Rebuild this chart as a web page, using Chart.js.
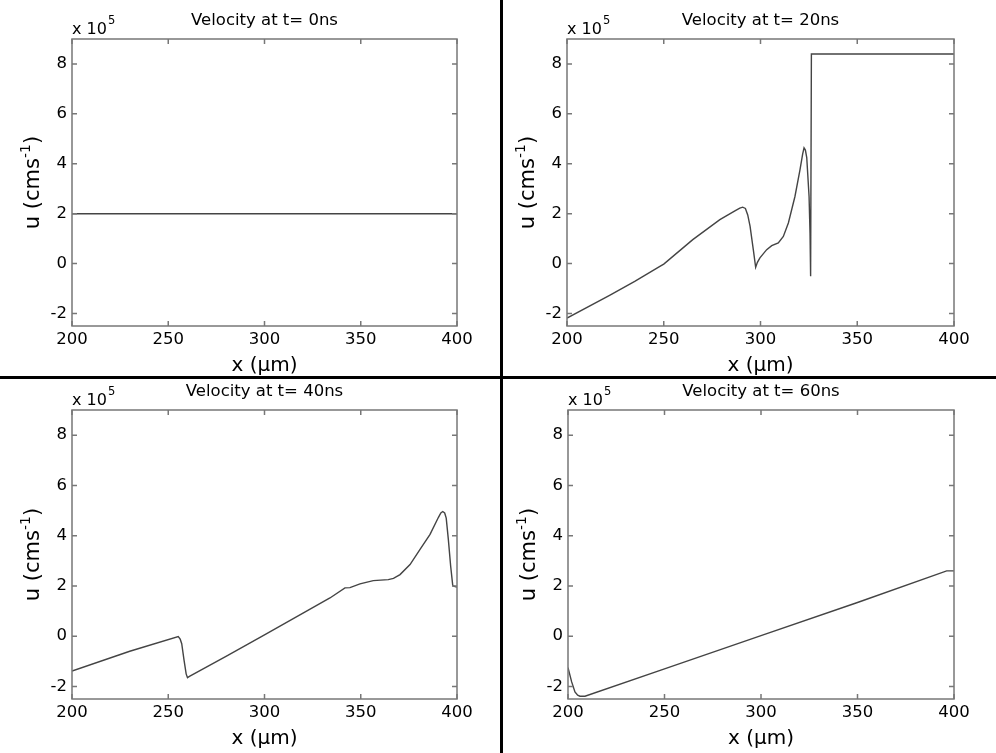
<!DOCTYPE html>
<html>
<head>
<meta charset="utf-8">
<script src="https://cdn.jsdelivr.net/npm/chart.js@4.4.1/dist/chart.umd.min.js"></script>
<style>
  body { margin: 0; background: #fff; }
  #wrap { position: relative; width: 996px; height: 753px; background: #fff; overflow: hidden; }
  .panel { position: absolute; }
  .panel canvas { display: block; }
  .sep { position: absolute; background: #000; }
</style>
</head>
<body>
<div id="wrap">
  <div class="panel" style="left:0;top:0"><canvas id="c0" width="499" height="375"></canvas></div>
  <div class="panel" style="left:502px;top:0"><canvas id="c1" width="494" height="375"></canvas></div>
  <div class="panel" style="left:0;top:378px"><canvas id="c2" width="499" height="375"></canvas></div>
  <div class="panel" style="left:502px;top:378px"><canvas id="c3" width="494" height="375"></canvas></div>
  <div class="sep" style="left:500px;top:0;width:3px;height:753px"></div>
  <div class="sep" style="left:0;top:376px;width:996px;height:3px"></div>
</div>
<script>
// tick labels
const xTicks = [200, 250, 300, 350, 400];
const yTicks = [-2, 0, 2, 4, 6, 8];

const titles = ['Velocity at t= 0ns', 'Velocity at t= 20ns', 'Velocity at t= 40ns', 'Velocity at t= 60ns'];

// velocity profiles, u in units of 1e5 cm/s, x in um
const x0ns = [200, 400];
const u0ns = [2, 2];

const x20ns = [200, 222, 235, 248, 250, 265, 279, 287, 289.3, 290.8, 292.2, 293.4, 294.6, 296.3, 297.5, 298.4, 299.7, 303.2, 305.8, 309.2, 311.8, 314.4, 317.8, 320.4, 321.8, 322.5, 323.2, 323.9, 325.1, 325.6, 325.9, 326.3, 400];
const u20ns = [-2.18, -1.27, -0.71, -0.11, -0.02, 0.96, 1.76, 2.12, 2.22, 2.26, 2.21, 1.95, 1.5, 0.55, -0.15, 0.05, 0.23, 0.56, 0.72, 0.83, 1.09, 1.63, 2.69, 3.76, 4.4, 4.64, 4.55, 4.25, 2.69, 1.2, -0.51, 8.4, 8.4];

const x40ns = [200, 230, 255.2, 256.2, 257, 258.2, 259.3, 260, 261, 280, 300, 320, 334, 341.8, 344.4, 349.6, 356.5, 364.3, 367, 370.4, 375.6, 380.8, 386, 390.3, 391.6, 392.6, 393.6, 394.4, 395.5, 396.7, 397.8, 399, 400];
const u40ns = [-1.39, -0.6, -0.02, -0.12, -0.3, -0.95, -1.5, -1.65, -1.6, -0.8, 0.05, 0.92, 1.52, 1.92, 1.93, 2.08, 2.21, 2.25, 2.3, 2.45, 2.85, 3.45, 4.05, 4.72, 4.9, 4.96, 4.9, 4.7, 3.85, 2.79, 2.01, 1.97, 1.95];

const x60ns = [200, 201.9, 203.6, 205, 206.2, 208.8, 250, 300, 350, 396.2, 400];
const u60ns = [-1.25, -1.82, -2.22, -2.35, -2.39, -2.39, -1.3, 0.02, 1.34, 2.6, 2.6];

const FONT = '"DejaVu Sans", "Liberation Sans", sans-serif';

// plot area inside each canvas: left, top, right, bottom
const panels = [
  { id: 'c0', xs: x0ns, us: u0ns, area: [72, 39, 457, 326] },
  { id: 'c1', xs: x20ns, us: u20ns, area: [65, 39, 452, 326] },
  { id: 'c2', xs: x40ns, us: u40ns, area: [72, 32, 457, 321] },
  { id: 'c3', xs: x60ns, us: u60ns, area: [66, 32, 452, 321] }
];

const decor = {
  id: 'decor',
  afterDraw(chart, args, opts) {
    const ctx = chart.ctx;
    const a = chart.chartArea;
    const sx = chart.scales.x, sy = chart.scales.y;
    ctx.save();
    // box + inward ticks
    ctx.strokeStyle = '#777';
    ctx.lineWidth = 1.5;
    ctx.strokeRect(a.left, a.top, a.right - a.left, a.bottom - a.top);
    ctx.beginPath();
    xTicks.forEach(v => {
      const px = sx.getPixelForValue(v);
      ctx.moveTo(px, a.bottom); ctx.lineTo(px, a.bottom - 5);
      ctx.moveTo(px, a.top); ctx.lineTo(px, a.top + 5);
    });
    yTicks.forEach(v => {
      const py = sy.getPixelForValue(v);
      ctx.moveTo(a.left, py); ctx.lineTo(a.left + 5, py);
      ctx.moveTo(a.right, py); ctx.lineTo(a.right - 5, py);
    });
    ctx.stroke();

    ctx.fillStyle = '#000';
    ctx.textBaseline = 'alphabetic';
    const cx = (a.left + a.right) / 2;

    // title
    ctx.font = '16.5px ' + FONT;
    ctx.textAlign = 'center';
    ctx.fillText(opts.title, cx, a.top - 14.5);

    // x 10^5
    ctx.textAlign = 'left';
    ctx.font = '16px ' + FONT;
    ctx.fillText('x 10', a.left, a.top - 5.5);
    const w10 = ctx.measureText('x 10').width;
    ctx.font = '11.5px ' + FONT;
    ctx.fillText('5', a.left + w10 + 1, a.top - 15.5);

    // x axis title
    ctx.font = '20px ' + FONT;
    ctx.textAlign = 'center';
    ctx.fillText('x (\u03bcm)', cx, a.bottom + 45);

    // y axis title, rotated
    ctx.translate(a.left - 33, (a.top + a.bottom) / 2);
    ctx.rotate(-Math.PI / 2);
    ctx.textAlign = 'left';
    ctx.font = '21px ' + FONT;
    const p1 = 'u (cms', p3 = ')';
    const w1 = ctx.measureText(p1).width, w3 = ctx.measureText(p3).width;
    ctx.font = '14px ' + FONT;
    const w2 = ctx.measureText('-1').width;
    let s = -(w1 + w2 + w3) / 2;
    ctx.font = '21px ' + FONT;
    ctx.fillText(p1, s, 0);
    ctx.font = '14px ' + FONT;
    ctx.fillText('-1', s + w1, -9);
    ctx.font = '21px ' + FONT;
    ctx.fillText(p3, s + w1 + w2, 0);
    ctx.restore();
  }
};

panels.forEach((p, i) => {
  const canvas = document.getElementById(p.id);
  const W = canvas.width, H = canvas.height;
  const [L, T, R, B] = p.area;
  new Chart(canvas.getContext('2d'), {
    type: 'line',
    data: {
      datasets: [{
        data: p.xs.map((x, k) => ({ x: x, y: p.us[k] })),
        borderColor: '#444',
        borderWidth: 1.4,
        pointRadius: 0,
        tension: 0,
        fill: false
      }]
    },
    options: {
      responsive: false,
      animation: false,
      devicePixelRatio: 1,
      events: [],
      layout: { padding: { left: 0, top: T, right: W - R, bottom: 0 } },
      plugins: {
        legend: { display: false },
        tooltip: { enabled: false },
        decor: { title: titles[i] }
      },
      scales: {
        x: {
          type: 'linear',
          min: 200,
          max: 400,
          grid: { display: false, drawTicks: false },
          border: { display: false },
          afterBuildTicks: s => { s.ticks = xTicks.map(v => ({ value: v })); },
          afterFit: s => { s.height = H - B; },
          ticks: {
            autoSkip: false,
            maxRotation: 0,
            padding: 4,
            color: '#000',
            font: { family: FONT, size: 16.5 }
          }
        },
        y: {
          type: 'linear',
          min: -2.5,
          max: 9,
          grid: { display: false, drawTicks: false },
          border: { display: false },
          afterBuildTicks: s => { s.ticks = yTicks.map(v => ({ value: v })); },
          afterFit: s => { s.width = L; },
          ticks: {
            padding: 5,
            color: '#000',
            font: { family: FONT, size: 16.5 }
          }
        }
      }
    },
    plugins: [decor]
  });
});
</script>
</body>
</html>
